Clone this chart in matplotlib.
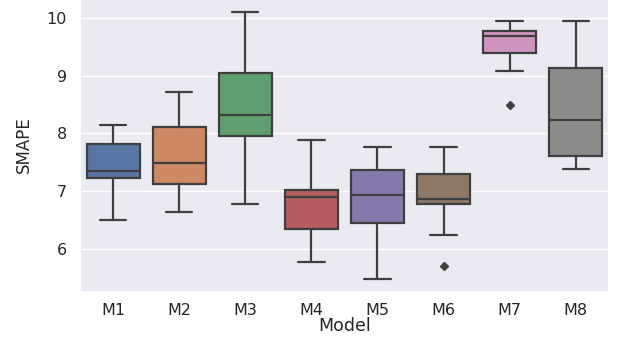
import matplotlib
matplotlib.use("Agg")
import matplotlib.pyplot as plt
import seaborn as sns

sns.set_theme(style="darkgrid")

models = ["M1", "M2", "M3", "M4", "M5", "M6", "M7", "M8"]
whislo = [6.50, 6.64, 6.78, 5.77, 5.47, 6.24, 9.08, 7.38]
q1 = [7.23, 7.12, 7.96, 6.34, 6.44, 6.78, 9.39, 7.61]
med = [7.35, 7.49, 8.31, 6.89, 6.93, 6.86, 9.68, 8.24]
q3 = [7.81, 8.11, 9.05, 7.01, 7.37, 7.29, 9.77, 9.14]
whishi = [8.14, 8.71, 10.10, 7.88, 7.76, 7.76, 9.95, 9.94]
fliers = [[], [], [], [], [], [5.71], [8.49], []]

colors = ["#5875a4", "#cc8963", "#5f9e6e", "#b55d60",
          "#857aab", "#8d7866", "#d095bf", "#8c8c8c"]
line_color = "#3f3f3f"

stats = []
for i, m in enumerate(models):
    stats.append(dict(label=m, whislo=whislo[i], q1=q1[i], med=med[i],
                      q3=q3[i], whishi=whishi[i], fliers=fliers[i]))

fig = plt.figure(figsize=(6.17, 3.4), dpi=100)
ymax = 10.31
ax = fig.add_axes([0.1297, 0.141, 0.857, 0.869])

bp = ax.bxp(stats, positions=range(len(models)), widths=0.8,
            patch_artist=True, capwidths=0.4,
            boxprops=dict(edgecolor=line_color, linewidth=1.6),
            whiskerprops=dict(color=line_color, linewidth=1.6),
            capprops=dict(color=line_color, linewidth=1.6),
            medianprops=dict(color=line_color, linewidth=1.6),
            flierprops=dict(marker="D", markerfacecolor=line_color,
                            markeredgecolor=line_color, markersize=3.8))
for patch, c in zip(bp["boxes"], colors):
    patch.set_facecolor(c)

# axes runs slightly past the top edge, as in the cropped original
ax.set_xlim(-0.5, 7.5)
ax.set_ylim(5.25, 10.37)
ax.set_yticks([6, 7, 8, 9, 10])
ax.set_xticks(range(len(models)))
ax.set_xticklabels(models)
ax.xaxis.grid(False)
ax.tick_params(axis="both", labelsize=11.5, colors="#262626")
ax.tick_params(axis="x", pad=2)
ax.set_xlabel("Model", fontsize=12.5, labelpad=-1)
ax.set_ylabel("SMAPE", fontsize=12, labelpad=10)

fig.savefig("out.png", dpi=100)
